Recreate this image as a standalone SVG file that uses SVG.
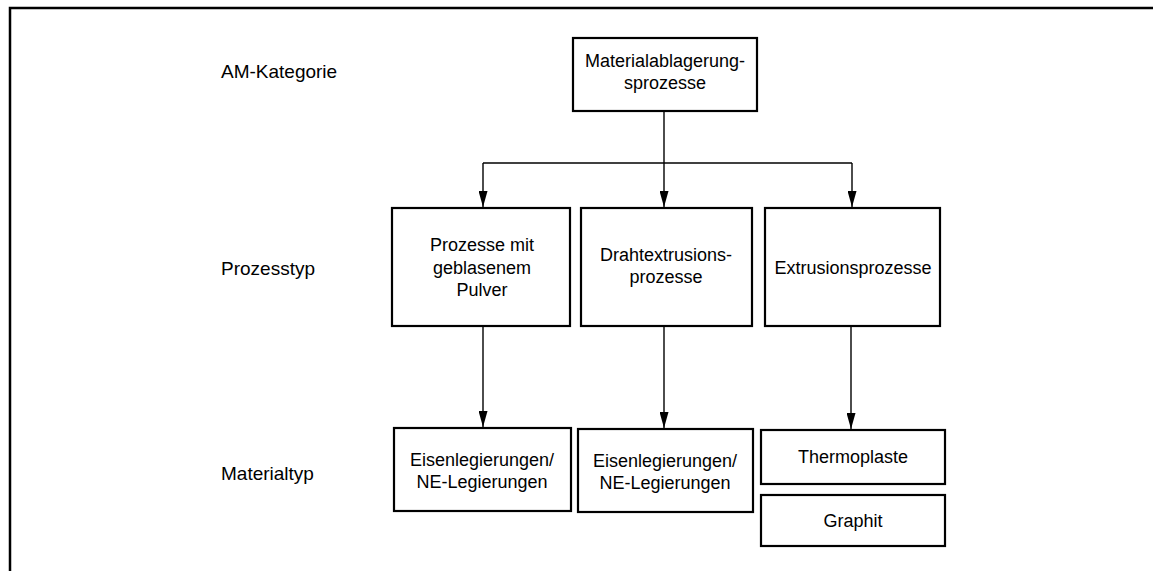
<svg xmlns="http://www.w3.org/2000/svg" width="1153" height="571" viewBox="0 0 1153 571">
<style>
.box{fill:#fff;stroke:#000;stroke-width:2.2}
.t{font-family:"Liberation Sans",Arial,sans-serif;font-size:18px;fill:#000;text-anchor:middle}
.lbl{font-family:"Liberation Sans",Arial,sans-serif;font-size:19px;fill:#000}
.c{fill:none;stroke:#000;stroke-width:1.4}
</style>
<defs>
<marker id="ah" viewBox="0 0 16 9" refX="16" refY="4.5" markerWidth="16" markerHeight="9" markerUnits="userSpaceOnUse" orient="auto">
<path d="M0,0 L16,4.5 L0,9 Z" fill="#000"/>
</marker>
</defs>
<rect width="1153" height="571" fill="#fff"/>
<path d="M10,571 L10,8 L1153,8" fill="none" stroke="#000" stroke-width="2.5"/>
<g id="labels">
<text class="lbl" x="221" y="78">AM-Kategorie</text>
<text class="lbl" x="221" y="275">Prozesstyp</text>
<text class="lbl" x="221" y="480">Materialtyp</text>
</g>
<g id="connectors">
<path class="c" d="M664,111 L664,163"/>
<path class="c" d="M483,163 L852,163"/>
<path class="c" d="M483,163 L483,207" marker-end="url(#ah)"/>
<path class="c" d="M664,163 L664,207" marker-end="url(#ah)"/>
<path class="c" d="M852,163 L852,207" marker-end="url(#ah)"/>
<path class="c" d="M483,326 L483,427" marker-end="url(#ah)"/>
<path class="c" d="M664,326 L664,428" marker-end="url(#ah)"/>
<path class="c" d="M851,326 L851,429" marker-end="url(#ah)"/>
</g>
<g id="n-top">
<rect class="box" x="573" y="38" width="184" height="73"/>
<text class="t" x="665" y="67">Materialablagerung-</text>
<text class="t" x="665" y="89">sprozesse</text>
</g>
<g id="n-pulver">
<rect class="box" x="392" y="208" width="178" height="118"/>
<text class="t" x="482" y="251">Prozesse mit</text>
<text class="t" x="482" y="274">geblasenem</text>
<text class="t" x="482" y="296">Pulver</text>
</g>
<g id="n-draht">
<rect class="box" x="581" y="208" width="171" height="118"/>
<text class="t" x="666" y="261">Drahtextrusions-</text>
<text class="t" x="666" y="283">prozesse</text>
</g>
<g id="n-extr">
<rect class="box" x="765" y="208" width="175" height="118"/>
<text class="t" x="853" y="274">Extrusionsprozesse</text>
</g>
<g id="n-eisen1">
<rect class="box" x="394" y="428" width="177" height="83"/>
<text class="t" x="482" y="466">Eisenlegierungen/</text>
<text class="t" x="482" y="488">NE-Legierungen</text>
</g>
<g id="n-eisen2">
<rect class="box" x="578" y="429" width="175" height="83"/>
<text class="t" x="665" y="467">Eisenlegierungen/</text>
<text class="t" x="665" y="489">NE-Legierungen</text>
</g>
<g id="n-thermo">
<rect class="box" x="761" y="430" width="184" height="54"/>
<text class="t" x="853" y="463">Thermoplaste</text>
</g>
<g id="n-graphit">
<rect class="box" x="761" y="495" width="184" height="51"/>
<text class="t" x="853" y="527">Graphit</text>
</g>
</svg>
